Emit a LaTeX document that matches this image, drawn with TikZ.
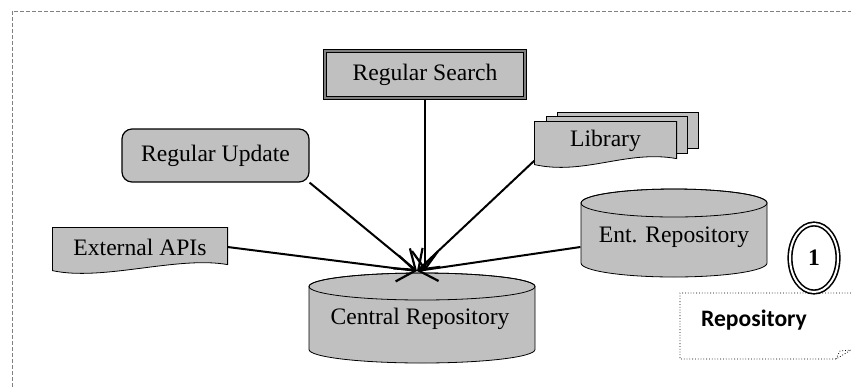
\documentclass[tikz,border=0pt]{standalone}
\usepackage{fontspec}
\setmainfont{Liberation Serif}
\newfontfamily\calloutfont{Carlito}
\usetikzlibrary{calc, arrows.meta, shapes, backgrounds}
\definecolor{boxgray}{RGB}{192,192,192}
\tikzset{>={Straight Barb[length=9pt,width=13pt,line width=1.1pt]}, font=\fontsize{11.8}{14}\selectfont}

% cylinder: centre x, top ellipse y, body height, x radius, y radius
\newcommand{\drum}[5]{%
  \filldraw[fill=boxgray] (#1,#2) ++(-#4,0pt) -- ++(0,#3)
    arc[start angle=180,end angle=360,x radius=#4,y radius=#5] -- ++(0,-#3)
    arc[start angle=0,end angle=180,x radius=#4,y radius=#5] -- cycle;
  \draw (#1,#2) ellipse[x radius=#4,y radius=#5];
}
% paper sheet with wavy lower edge round a node
\newcommand{\sheet}[1]{%
  \filldraw[fill=boxgray] (#1.north west) -- (#1.north east) -- ($(#1.south east)+(0,-2)$)
    .. controls +(-50,-9) and +(50,11) .. ($(#1.south west)+(0,4)$) -- cycle;
}

\begin{document}
\begin{tikzpicture}[x=0.5pt,y=-0.5pt,semithick]
\tikzstyle{flat}=[inner sep=0pt]
\tikzstyle{feed}=[->,line width=1pt]

\useasboundingbox (0,0) rectangle (851,387);
\draw[gray,thin,dash pattern=on 2pt off 1pt] (12,387) |- (851,11);

\node[flat,draw,fill=boxgray,double=gray,double distance=1.2pt,
      minimum width=100pt,minimum height=23.5pt] (search) at (425,74.5) {Regular Search};
\node[flat,draw,fill=boxgray,rounded corners=5pt,
      minimum width=93.5pt,minimum height=26.5pt] (update) at (215.5,155.5) {Regular Update};
\node[flat,minimum width=70.5pt,minimum height=19pt] (library) at (605.5,141) {Library};
\node[flat,minimum width=87pt,minimum height=19pt] (extapi) at (140,247) {External APIs};
\node[flat] (central) at (420,319) {Central Repository};
\node[flat,minimum width=93pt] (entrepo) at (674,237) {Ent. Repository};
\node[ellipse,draw,double,double distance=1pt,line width=0.8pt,
      minimum width=24pt,minimum height=34pt,font=\fontsize{11.8}{14}\selectfont\bfseries] (one) at (814,258) {1};
\node[flat,font=\calloutfont\fontsize{11.8}{14}\selectfont\bfseries] (callout) at (754,320) {Repository};
\coordinate (hub) at (417,271);

\begin{scope}[on background layer]
  \filldraw[fill=boxgray] ([shift={(23,-9)}]library.north west) rectangle ([shift={(22,-12)}]library.south east);
  \filldraw[fill=boxgray] ([shift={(12,-5)}]library.north west) rectangle ([shift={(11,-7)}]library.south east);
  \sheet{library}
  \sheet{extapi}
  \drum{422}{286.5}{63}{56.5pt}{6.75pt}
  \drum{674}{203}{60}{46.5pt}{7pt}
  \draw[thin,densely dotted] (851,293) -- (680,293) -- (680,359) -- (836,359) -- (851,350);
  \draw[thin,densely dotted] (836,359) -- (840,351) -- (851,350);
\end{scope}

\draw[feed] (search.south) -- (search.south |- hub);
\draw[feed] (update.south east) -- (hub);
\draw[feed] (library.south west) -- (hub);
\draw[feed] (extapi.east) -- (hub);
\draw[feed] ($(entrepo.west)+(0,10)$) -- (hub);

\end{tikzpicture}
\end{document}
